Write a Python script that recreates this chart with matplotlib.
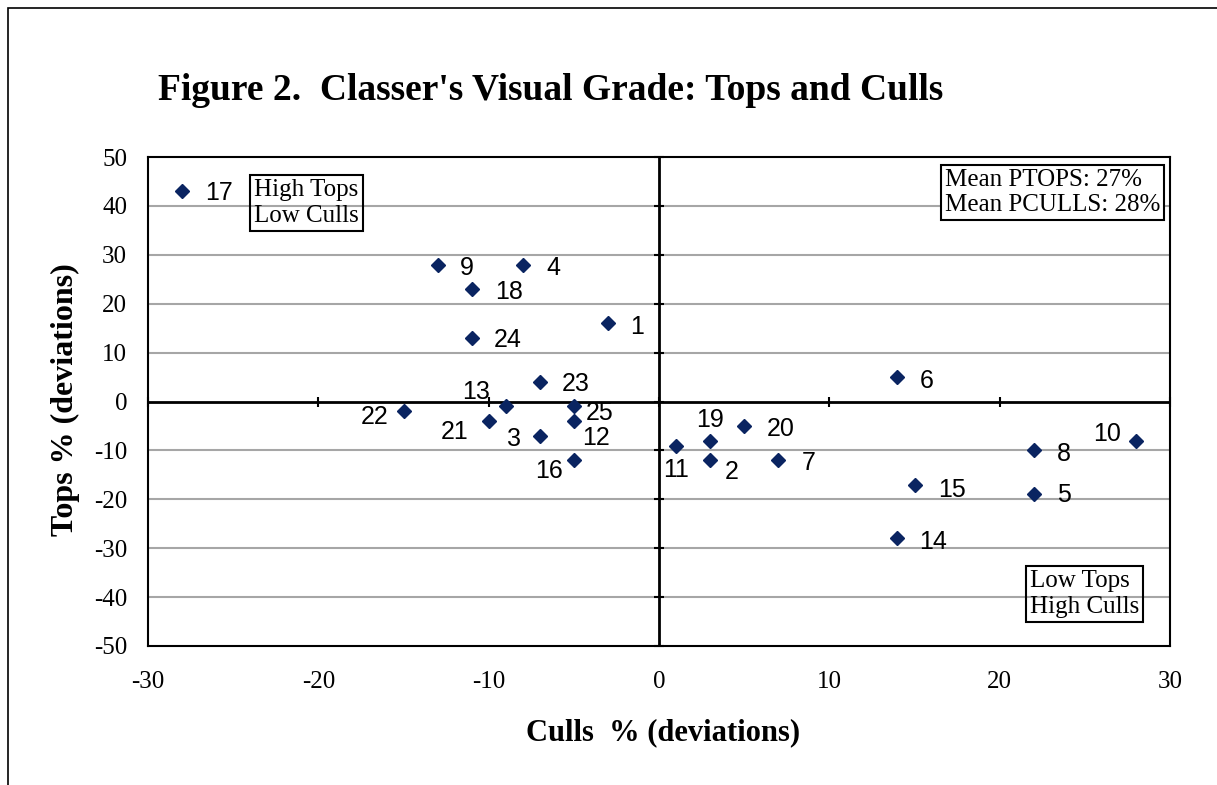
import matplotlib
matplotlib.use("Agg")
import matplotlib.pyplot as plt
from matplotlib.patches import Rectangle

plt.rcParams["axes.unicode_minus"] = False

# ---- data ----
ids = ["17", "9", "4", "18", "1", "24", "23", "13", "22", "25", "21", "12", "3", "16",
       "11", "19", "2", "20", "7", "6", "10", "8", "5", "15", "14"]
culls = [-28, -13, -8, -11, -3, -11, -7, -9, -15, -5, -10, -5, -7, -5,
         1, 3, 3, 5, 7, 14, 28, 22, 22, 15, 14]
tops = [43, 28, 28, 23, 16, 13, 4, -1, -2, -1, -4, -4, -7, -12,
        -9, -8, -12, -5, -12, 5, -8, -10, -19, -17, -28]
x_ticks = [-30, -20, -10, 0, 10, 20, 30]
y_ticks = [50, 40, 30, 20, 10, 0, -10, -20, -30, -40, -50]

# label offsets in pixels (style only)
offsets = {"17": (37, -2), "9": (29, -3), "4": (31, -3), "18": (37, -3), "1": (29, -4),
           "24": (36, -2), "23": (36, -2), "13": (-30, 14), "22": (-29, -6), "25": (26, -7),
           "21": (-34, -11), "12": (22, -17), "3": (-26, -3), "16": (-25, -11),
           "11": (0, -24), "19": (0, 21), "2": (22, -12), "20": (37, -3), "7": (30, -3),
           "6": (29, -4), "10": (-29, 7), "8": (30, -4), "5": (30, -1), "15": (38, -5),
           "14": (36, -4)}

DPI = 100
fig = plt.figure(figsize=(12.17, 7.85), dpi=DPI)
ax = fig.add_axes([148/1217, 1-646/785, (1170-148)/1217, (646-157)/785])

# outer chart border (cropped)
fig.patches.append(Rectangle((8/1217, -0.1), 1.2, (1-8/785)+0.1, transform=fig.transFigure,
                             fill=False, edgecolor="black", linewidth=1.2))

ax.set_xlim(-30, 30)
ax.set_ylim(-50, 50)
ax.set_xticks(x_ticks)
ax.set_yticks(y_ticks)
ax.tick_params(length=0, labelsize=18)
ax.tick_params(axis="y", pad=15)
ax.tick_params(axis="x", pad=18)
for lab in ax.get_xticklabels() + ax.get_yticklabels():
    lab.set_fontfamily("Liberation Serif")
for s in ax.spines.values():
    s.set_linewidth(1.5)
    s.set_color("black")

for y in y_ticks:
    if y not in (0, 50, -50):
        ax.axhline(y, color="#a6a6a6", linewidth=1.5, zorder=1)
ax.axhline(0, color="black", linewidth=2, zorder=2)
ax.axvline(0, color="black", linewidth=2, zorder=2)
# tick marks on the crossing axes
ax.plot([0]*len(y_ticks), y_ticks, linestyle="none", marker="_", markersize=7,
        color="black", markeredgewidth=1.5, zorder=2, clip_on=False)
ax.plot(x_ticks, [0]*len(x_ticks), linestyle="none", marker="|", markersize=7,
        color="black", markeredgewidth=1.5, zorder=2, clip_on=False)

ax.plot(culls, tops, linestyle="none", marker="D", markersize=7.5,
        color="#0a2461", zorder=4, clip_on=False)
for i, c, t in zip(ids, culls, tops):
    dx, dy = offsets[i]
    ax.annotate(i, (c, t), xytext=(dx * 72 / DPI, dy * 72 / DPI), textcoords="offset points",
                ha="center", va="center", fontsize=18, fontfamily="Liberation Sans", zorder=5)

box_clear = dict(boxstyle="square,pad=0.15", facecolor="none", edgecolor="black", linewidth=1.5)
box_white = dict(boxstyle="square,pad=0.15", facecolor="white", edgecolor="black", linewidth=1.5)
ax.text((254-148)/1022, 1-(179-157)/489, "High Tops\nLow Culls", transform=ax.transAxes,
        ha="left", va="top", fontsize=18, fontfamily="Liberation Serif", bbox=box_clear,
        linespacing=1.25, zorder=6)
ax.text((945-148)/1022, 1-(169-157)/489, "Mean PTOPS: 27%\nMean PCULLS: 28%",
        transform=ax.transAxes, ha="left", va="top", fontsize=18,
        fontfamily="Liberation Serif", bbox=box_white, linespacing=1.2, zorder=6)
ax.text((1030-148)/1022, 1-(570-157)/489, "Low Tops\nHigh Culls", transform=ax.transAxes,
        ha="left", va="top", fontsize=18, fontfamily="Liberation Serif", bbox=box_clear,
        linespacing=1.25, zorder=6)

fig.text(158/1217, 1-90/785, "Figure 2.  Classer's Visual Grade: Tops and Culls",
         ha="left", va="center", fontsize=27, fontweight="bold", fontfamily="Liberation Serif")
fig.text(663/1217, 1-733/785, "Culls  % (deviations)", ha="center", va="center",
         fontsize=22, fontweight="bold", fontfamily="Liberation Serif")
fig.text(65/1217, 1-400/785, "Tops % (deviations)", ha="center", va="center", rotation=90,
         fontsize=23, fontweight="bold", fontfamily="Liberation Serif")

fig.savefig("out.png", dpi=DPI)
